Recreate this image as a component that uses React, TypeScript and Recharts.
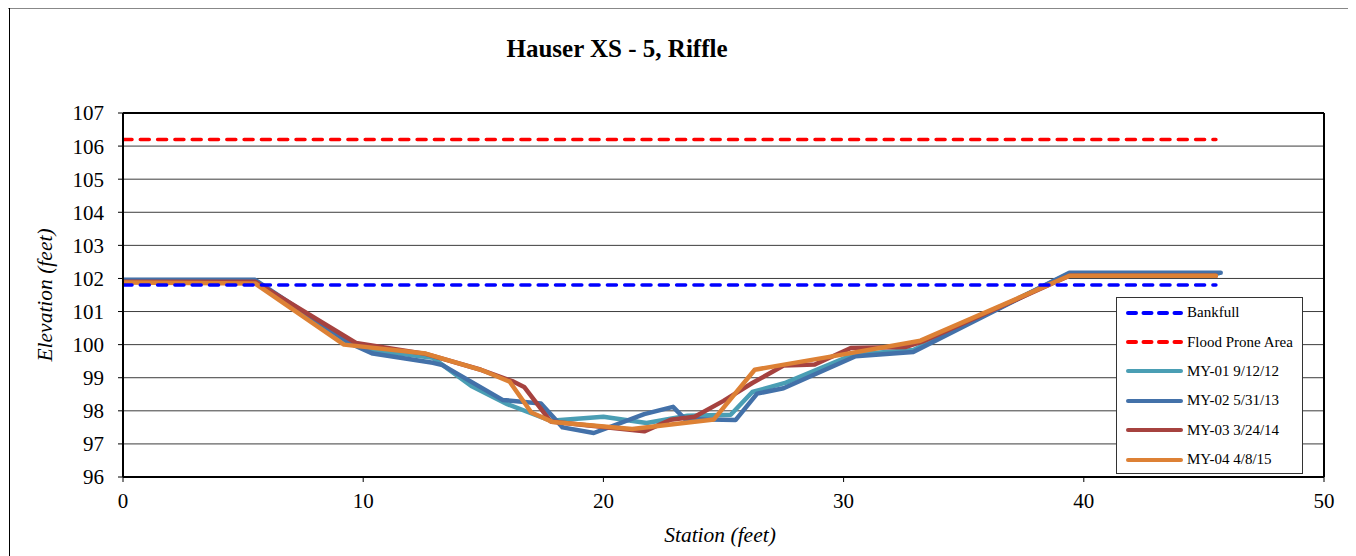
import React from 'react';
import { LineChart, Line, XAxis, YAxis, CartesianGrid, ReferenceLine, Legend } from 'recharts';

const SERIF = '"Liberation Serif", "Times New Roman", serif';

const stationTicks = [0, 10, 20, 30, 40, 50];
const stationMinorTicks = [5, 15, 25, 35, 45];
const elevTicks = [96, 97, 98, 99, 100, 101, 102, 103, 104, 105, 106, 107];
const elevMinorTicks = [96.5, 97.5, 98.5, 99.5, 100.5, 101.5, 102.5, 103.5, 104.5, 105.5, 106.5];

const bankfull: [number, number][] = [[0, 101.8], [45.5, 101.8]];
const floodProne: [number, number][] = [[0, 106.2], [45.5, 106.2]];

const my01: [number, number][] = [
  [0, 101.93], [5.5, 101.93], [9.4, 100.05], [10.3, 99.84], [12.9, 99.6], [14.5, 98.75],
  [16.0, 98.2], [17.8, 97.7], [20.0, 97.82], [21.8, 97.63], [23.5, 97.85], [25.3, 97.88],
  [26.2, 98.57], [27.6, 98.85], [30.4, 99.7], [32.9, 99.84], [39.4, 102.15], [45.6, 102.15],
];
const my02: [number, number][] = [
  [0, 101.96], [5.5, 101.96], [9.5, 100.02], [10.4, 99.73], [12.9, 99.45], [13.3, 99.38],
  [15.8, 98.33], [17.4, 98.22], [18.3, 97.5], [19.6, 97.33], [21.7, 97.9], [22.9, 98.12],
  [23.4, 97.75], [25.5, 97.72], [26.4, 98.52], [27.5, 98.68], [30.5, 99.65], [32.9, 99.78],
  [39.4, 102.17], [45.7, 102.17],
];
const my03: [number, number][] = [
  [0, 101.9], [5.5, 101.9], [9.7, 100.05], [12.6, 99.72], [14.9, 99.24], [16.2, 98.9],
  [16.7, 98.72], [17.8, 97.68], [21.7, 97.38], [22.8, 97.73], [23.8, 97.82], [25.0, 98.3],
  [26.2, 98.84], [27.5, 99.37], [28.8, 99.4], [30.3, 99.9], [32.6, 99.93], [33.3, 100.1],
  [39.4, 102.08], [45.5, 102.08],
];
const my04: [number, number][] = [
  [0, 101.88], [5.5, 101.85], [9.2, 100.0], [12.6, 99.73], [14.9, 99.24], [16.1, 98.88],
  [17.0, 97.95], [17.9, 97.66], [21.2, 97.45], [24.6, 97.74], [26.3, 99.24], [27.4, 99.38],
  [29.4, 99.63], [33.2, 100.12], [39.4, 102.08], [45.5, 102.08],
];

const toPts = (a: [number, number][]) => a.map(([x, y]) => ({ x, y }));

const series = [
  { name: 'MY-01 9/12/12', color: '#4A9EB4', data: my01 },
  { name: 'MY-02 5/31/13', color: '#4371A9', data: my02 },
  { name: 'MY-03 3/24/14', color: '#A6423F', data: my03 },
  { name: 'MY-04 4/8/15', color: '#DD8135', data: my04 },
];

const legendItems = [
  { name: 'Bankfull', color: '#0000FF', dash: true },
  { name: 'Flood Prone Area', color: '#FF0000', dash: true },
  ...series.map((s) => ({ name: s.name, color: s.color, dash: false })),
];

const LegendBox = () => (
  <div
    style={{
      width: 187,
      height: 177,
      boxSizing: 'border-box',
      border: '1px solid #333',
      background: '#fff',
      fontFamily: SERIF,
      fontSize: 15,
      color: '#000',
      paddingTop: 0,
    }}
  >
    {legendItems.map((it) => (
      <div key={it.name} style={{ height: 29.4, display: 'flex', alignItems: 'center' }}>
        <svg width={68} height={10} style={{ flex: 'none', display: 'block' }}>
          <line
            x1={11}
            x2={64}
            y1={5}
            y2={5}
            stroke={it.color}
            strokeWidth={4}
            strokeLinecap="round"
            strokeDasharray={it.dash ? '8 7.5' : undefined}
          />
        </svg>
        <span style={{ marginLeft: 2, whiteSpace: 'nowrap', lineHeight: '1' }}>{it.name}</span>
      </div>
    ))}
  </div>
);

const tickStyle = { fill: '#000', fontSize: 21, fontFamily: SERIF };

const css = `
.xs5 svg text, .xs5 .recharts-text { font-family: "Liberation Serif", "Times New Roman", serif !important; }
`;

export default function App() {
  return (
    <div className="xs5" style={{ position: 'relative', width: 1340, height: 548, background: '#fff', fontFamily: SERIF }}>
      <style>{css}</style>
      <div style={{ position: 'absolute', left: 0, top: 0, width: 1340, height: 1, background: '#888' }} />
      <div style={{ position: 'absolute', left: 1, top: 0, width: 1, height: 548, background: '#000' }} />
      <LineChart width={1340} height={548} margin={{ top: 105, right: 24, left: 55, bottom: 49 }} style={{ fontFamily: SERIF }}>
        <CartesianGrid xAxisId="x" yAxisId="y" vertical={false} stroke="#3c3c3c" strokeWidth={1} />
        <XAxis
          xAxisId="x"
          dataKey="x"
          type="number"
          domain={[0, 50]}
          ticks={stationTicks}
          interval={0}
          allowDataOverflow
          height={30}
          tick={tickStyle}
          tickSize={5}
          tickMargin={11}
          axisLine={{ stroke: '#000', strokeWidth: 2 }}
          tickLine={{ stroke: '#000' }}
        />
        <XAxis
          xAxisId="xm"
          type="number"
          orientation="bottom"
          mirror
          domain={[0, 50]}
          ticks={stationMinorTicks}
          interval={0}
          tick={false}
          tickSize={5}
          axisLine={false}
          tickLine={{ stroke: '#000' }}
          height={30}
        />
        <YAxis
          yAxisId="y"
          type="number"
          domain={[96, 107]}
          ticks={elevTicks}
          interval={0}
          allowDataOverflow
          width={60}
          tick={tickStyle}
          tickSize={5}
          tickMargin={14}
          axisLine={{ stroke: '#000', strokeWidth: 2 }}
          tickLine={{ stroke: '#000' }}
        />
        <YAxis
          yAxisId="ym"
          type="number"
          orientation="left"
          mirror
          domain={[96, 107]}
          ticks={elevMinorTicks}
          interval={0}
          tick={false}
          tickSize={5}
          axisLine={false}
          tickLine={{ stroke: '#000' }}
          width={60}
        />
        <ReferenceLine xAxisId="x" yAxisId="y" x={50} stroke="#000" strokeWidth={2} ifOverflow="visible" />
        <ReferenceLine xAxisId="x" yAxisId="y" y={107} stroke="#000" strokeWidth={2} ifOverflow="visible" />
        {series.map((s) => (
          <Line
            key={s.name}
            xAxisId="x"
            yAxisId="y"
            name={s.name}
            data={toPts(s.data)}
            dataKey="y"
            type="linear"
            stroke={s.color}
            strokeWidth={4.5}
            strokeLinejoin="round"
            strokeLinecap="round"
            dot={false}
            activeDot={false}
            isAnimationActive={false}
          />
        ))}
        <Line
          xAxisId="x"
          yAxisId="y"
          name="Bankfull"
          data={toPts(bankfull)}
          dataKey="y"
          type="linear"
          stroke="#0000FF"
          strokeWidth={3.5}
          strokeDasharray="9 8.3"
          strokeLinecap="round"
          dot={false}
          activeDot={false}
          isAnimationActive={false}
        />
        <Line
          xAxisId="x"
          yAxisId="y"
          name="Flood Prone Area"
          data={toPts(floodProne)}
          dataKey="y"
          type="linear"
          stroke="#FF0000"
          strokeWidth={3.5}
          strokeDasharray="9 8.3"
          strokeLinecap="round"
          dot={false}
          activeDot={false}
          isAnimationActive={false}
        />
        <Legend
          layout="vertical"
          align="center"
          verticalAlign="middle"
          content={() => <LegendBox />}
          wrapperStyle={{ left: 1108, top: 289, width: 187, height: 177 }}
        />
      </LineChart>
      <div
        style={{
          position: 'absolute',
          left: 0,
          width: 1218,
          top: 28,
          textAlign: 'center',
          fontWeight: 'bold',
          fontSize: 25,
          lineHeight: '26px',
          color: '#000',
          whiteSpace: 'nowrap',
        }}
      >
        Hauser XS - 5, Riffle
      </div>
      <div
        style={{
          position: 'absolute',
          left: -63,
          top: 275,
          width: 200,
          height: 24,
          lineHeight: '24px',
          textAlign: 'center',
          fontStyle: 'italic',
          fontSize: 21.5,
          color: '#000',
          transform: 'rotate(-90deg)',
          whiteSpace: 'nowrap',
        }}
      >
        Elevation (feet)
      </div>
      <div
        style={{
          position: 'absolute',
          left: 612,
          top: 515,
          width: 200,
          height: 24,
          lineHeight: '24px',
          textAlign: 'center',
          fontStyle: 'italic',
          fontSize: 21.5,
          color: '#000',
          whiteSpace: 'nowrap',
        }}
      >
        Station (feet)
      </div>
    </div>
  );
}
